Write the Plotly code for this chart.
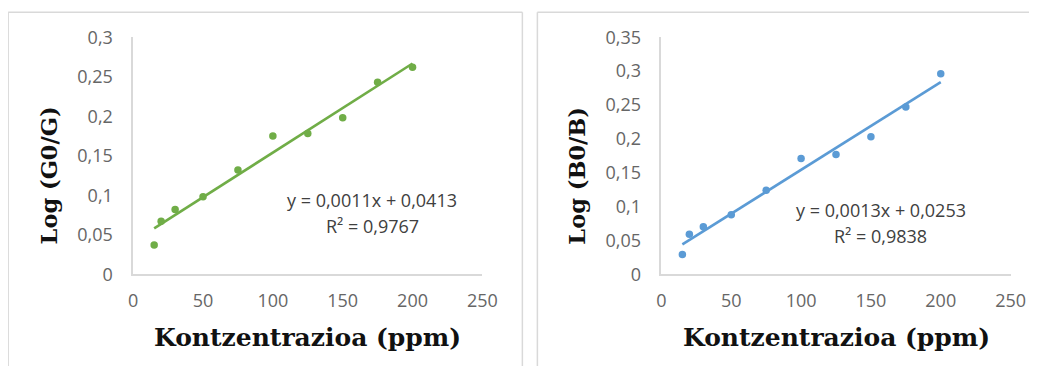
import numpy as np
import plotly.graph_objects as go

# ---- data ----
conc = [15, 20, 30, 50, 75, 100, 125, 150, 175, 200]
log_g = [0.037, 0.067, 0.082, 0.098, 0.132, 0.175, 0.178, 0.198, 0.243, 0.262]
log_b = [0.029, 0.059, 0.070, 0.088, 0.124, 0.171, 0.177, 0.203, 0.247, 0.296]

x_ticks = [0, 50, 100, 150, 200, 250]
x_ticklabels = ["0", "50", "100", "150", "200", "250"]
yg_ticks = [0, 0.05, 0.1, 0.15, 0.2, 0.25, 0.3]
yg_ticklabels = ["0", "0,05", "0,1", "0,15", "0,2", "0,25", "0,3"]
yb_ticks = [0, 0.05, 0.1, 0.15, 0.2, 0.25, 0.3, 0.35]
yb_ticklabels = ["0", "0,05", "0,1", "0,15", "0,2", "0,25", "0,3", "0,35"]

eq_g = ["y = 0,0011x + 0,0413", "R² = 0,9767"]
eq_b = ["y = 0,0013x + 0,0253", "R² = 0,9838"]

GREEN = "#70AD47"
BLUE = "#5B9BD5"

OFF = 8  # page body margin
W, H = 1037 - 2 * OFF, 374 - 2 * OFF

# empirical correction between requested page position and photographed position
SX, BX = 0.98, 5.0
SY, BY = 0.933, 13.3


def px(t):
    v = (t - BX) / SX
    return (v - OFF) / W


def py(t):
    v = (t - BY) / SY
    return (H - (v - OFF)) / H


fig = go.Figure()


def add_panel(xa, ya, yvals, color):
    xs = np.array(conc, dtype=float)
    ys = np.array(yvals, dtype=float)
    m, b = np.polyfit(xs, ys, 1)
    xl = np.array([xs.min(), xs.max()])
    fig.add_trace(go.Scatter(x=xl, y=m * xl + b, mode="lines",
                             line=dict(color=color, width=2.6),
                             xaxis=xa, yaxis=ya, showlegend=False, hoverinfo="skip"))
    fig.add_trace(go.Scatter(x=xs, y=ys, mode="markers",
                             marker=dict(color=color, size=7.5),
                             xaxis=xa, yaxis=ya, showlegend=False))


add_panel("x", "y", log_g, GREEN)
add_panel("x2", "y2", log_b, BLUE)

tickfont = dict(family="Open Sans", size=18, color="#666666")
axis_common = dict(showgrid=False, zeroline=False, showline=True,
                   linecolor="#D9D9D9", linewidth=1.5, ticks="",
                   tickfont=tickfont, fixedrange=True)

y_dom = [py(274), py(37)]

fig.update_layout(
    width=W, height=H,
    margin=dict(l=0, r=0, t=0, b=0),
    paper_bgcolor="white", plot_bgcolor="white",
    xaxis=dict(domain=[px(133), px(482)], range=[0, 250], anchor="y",
               tickvals=x_ticks, ticktext=x_ticklabels, ticklabelstandoff=9, **axis_common),
    yaxis=dict(domain=y_dom, range=[0, 0.3], anchor="x",
               tickvals=yg_ticks, ticktext=yg_ticklabels, ticklabelstandoff=15, **axis_common),
    xaxis2=dict(domain=[px(661), px(1010)], range=[0, 250], anchor="y2",
                tickvals=x_ticks, ticktext=x_ticklabels, ticklabelstandoff=9, **axis_common),
    yaxis2=dict(domain=y_dom, range=[0, 0.35], anchor="x2",
                tickvals=yb_ticks, ticktext=yb_ticklabels, ticklabelstandoff=15, **axis_common),
)

# panel borders
border = dict(color="#D9D9D9", width=1.5)
segments = [
    (8, 12, 8, 380),       # left panel, left edge
    (8, 12, 522, 12),      # left panel, top edge
    (522, 12, 522, 380),   # left panel, right edge
    (537, 12, 537, 380),   # right panel, left edge
    (537, 12, 1045, 12),   # right panel, top edge
]
for x0, y0, x1, y1 in segments:
    fig.add_shape(type="line", xref="paper", yref="paper",
                  x0=px(x0), y0=py(y0), x1=px(x1), y1=py(y1), line=border)

xtitlefont = dict(family="DejaVu Serif", size=25, color="#111111")
ytitlefont = dict(family="DejaVu Serif", size=22.5, color="#111111")
annofont = dict(family="Open Sans", size=18, color="#404040")

annos = [
    dict(x=px(307), y=py(337), text="<b>Kontzentrazioa (ppm)</b>", font=xtitlefont),
    dict(x=px(836), y=py(337), text="<b>Kontzentrazioa (ppm)</b>", font=xtitlefont),
    dict(x=px(49), y=py(175), text="<b>Log (G0/G)</b>", font=ytitlefont, textangle=-90),
    dict(x=px(577), y=py(175), text="<b>Log (B0/B)</b>", font=ytitlefont, textangle=-90),
    dict(x=px(372), y=py(200), text=eq_g[0], font=annofont),
    dict(x=px(372), y=py(226), text=eq_g[1], font=annofont),
    dict(x=px(880), y=py(210), text=eq_b[0], font=annofont),
    dict(x=px(880), y=py(236), text=eq_b[1], font=annofont),
]
for a in annos:
    a.update(xref="paper", yref="paper", showarrow=False, xanchor="center", yanchor="middle")
    fig.add_annotation(**a)

fig.write_html("out.html")
